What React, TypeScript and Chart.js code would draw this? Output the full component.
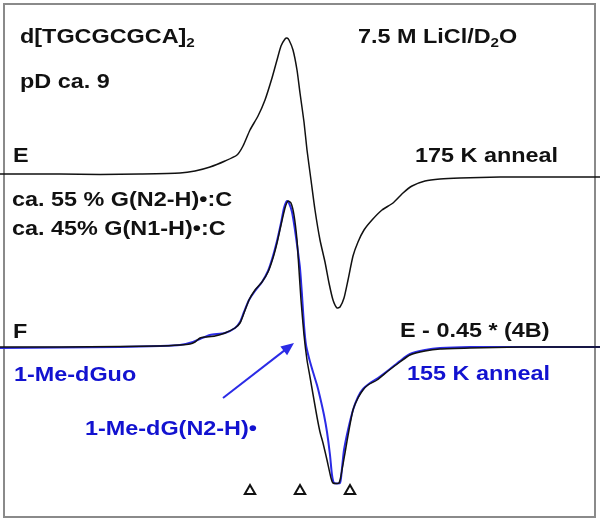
import React, { useEffect, useRef } from "react";
import { Chart, registerables } from "chart.js";

Chart.register(...registerables);

// Field offset (G, relative to center) and first-derivative EPR intensity (a.u.)
const FIELD_E = [-150, -120, -100, -80, -60, -52.5, -45, -37.5, -31.5, -28.5, -25, -21, -17.5, -14, -11.5, -9.5, -7.5, -6.5, -5.5, -3.5, -1.5, 0, 2, 3.5, 5.5, 7.5, 10, 12.5, 14.5, 16.5, 18.5, 20, 22, 24, 26.5, 29, 32, 36, 41, 46.5, 51.5, 56, 62.5, 70, 80, 100, 125, 150];
const SIGNAL_E = [1, 1, 0.5, 1, 2, 4, 8, 14, 20, 29, 45, 59, 75, 97, 115, 129, 136, 137, 135, 125, 105, 82, 53, 25, -5, -35, -65, -87, -108, -125, -133, -132, -123, -105, -81, -67, -55, -45, -35, -28, -18, -11, -6, -4, -3, -2, -2, -2];

const FIELD_F = [-150, -120, -90, -70, -60, -55, -52.5, -50, -47.5, -42.5, -37.5, -32.5, -30, -28, -25.5, -22.5, -19, -16, -13.5, -11.5, -9.5, -7.5, -6, -4.5, -3, -1.5, -0.5, 0.5, 2, 3.5, 5, 7, 8.5, 10, 11.5, 13.5, 15.5, 16.5, 19.5, 21, 22.5, 24.5, 26.5, 29, 31.5, 34, 38.5, 44, 50, 55, 62.5, 70, 85, 110, 150];
const SIGNAL_F = [0, 0, 0.5, 1, 2, 3, 5, 9, 10, 11, 14, 19, 24, 34, 47, 57, 65, 75, 89, 104, 122, 139, 146, 144, 132, 107, 77, 47, 12, -13, -30, -53, -70, -85, -96, -113, -131, -136, -136, -123, -106, -83, -63, -51, -43, -38, -33, -24, -15, -8, -4, -2, -1, 0, 0];

const FIELD_REF = [-150, -120, -90, -70, -60, -53.5, -50, -45, -37.5, -32.5, -30, -28, -25.5, -22.5, -19, -16, -13.5, -11.5, -9.5, -8, -6.5, -5.5, -4, -2.5, -1, 0, 1, 2, 3, 4.5, 6.5, 8.5, 10, 12, 13.5, 15, 16, 17, 20, 21, 22, 24, 26.5, 29, 31.5, 35, 39, 45, 50, 55, 62.5, 70, 85, 110, 150];
const SIGNAL_REF = [-1, -0.5, 0, 1, 2, 5, 8, 12, 14, 19, 25, 35, 47, 56, 65, 76, 91, 106, 124, 139, 146, 144, 135, 117, 95, 79, 52, 22, 2, -11, -25, -38, -50, -68, -85, -108, -128, -136, -136, -121, -103, -83, -63, -50, -42, -36, -31, -22, -14, -7, -3, -1, 0, 0, 0];

const MARKER_FIELDS = [-25, 0, 25];
const MARKER_LEVEL = 31;

const OFFSET_E = 347;
const OFFSET_F = 175;

const ARROW_FROM = { x: -38.5, y: 124 };
const ARROW_TO = { x: -3, y: 179 };

const BLACK = "#111111";
const BLUE_LINE = "#2b2be6";
const BLUE_TEXT = "#1212d0";

type Seg = { t: string; sub?: boolean };
type Label = { segs: Seg[]; x: number; y: number; color: string };

const LABELS: Label[] = [
  { segs: [{ t: "d[TGCGCGCA]" }, { t: "2", sub: true }], x: 20, y: 43, color: BLACK },
  { segs: [{ t: "pD ca. 9" }], x: 20, y: 88, color: BLACK },
  { segs: [{ t: "7.5 M LiCl/D" }, { t: "2", sub: true }, { t: "O" }], x: 358, y: 43, color: BLACK },
  { segs: [{ t: "E" }], x: 13, y: 162, color: BLACK },
  { segs: [{ t: "175 K anneal" }], x: 415, y: 162, color: BLACK },
  { segs: [{ t: "ca. 55 % G(N2-H)•:C" }], x: 12, y: 206, color: BLACK },
  { segs: [{ t: "ca. 45% G(N1-H)•:C" }], x: 12, y: 235, color: BLACK },
  { segs: [{ t: "F" }], x: 13, y: 338, color: BLACK },
  { segs: [{ t: "E - 0.45 * (4B)" }], x: 400, y: 337, color: BLACK },
  { segs: [{ t: "1-Me-dGuo" }], x: 14, y: 381, color: BLUE_TEXT },
  { segs: [{ t: "155 K anneal" }], x: 407, y: 380, color: BLUE_TEXT },
  { segs: [{ t: "1-Me-dG(N2-H)•" }], x: 85, y: 435, color: BLUE_TEXT },
];

const FONT = '"Liberation Sans", Arial, sans-serif';
const STRETCH = 1.17;

const decorPlugin = {
  id: "decor",
  beforeDatasetsDraw(chart: any) {
    const ctx = chart.ctx;
    ctx.save();
    ctx.strokeStyle = "#8a8a8a";
    ctx.lineWidth = 2;
    ctx.strokeRect(4, 4, 591, 513);
    ctx.restore();
  },
  afterDatasetsDraw(chart: any) {
    const ctx = chart.ctx;
    const xs = chart.scales.x;
    const ys = chart.scales.y;
    // arrow
    const x1 = xs.getPixelForValue(ARROW_FROM.x);
    const y1 = ys.getPixelForValue(ARROW_FROM.y);
    const x2 = xs.getPixelForValue(ARROW_TO.x);
    const y2 = ys.getPixelForValue(ARROW_TO.y);
    const ang = Math.atan2(y2 - y1, x2 - x1);
    const len = 13;
    const hw = 5.5;
    ctx.save();
    ctx.strokeStyle = BLUE_LINE;
    ctx.fillStyle = BLUE_LINE;
    ctx.lineWidth = 2;
    ctx.beginPath();
    ctx.moveTo(x1, y1);
    ctx.lineTo(x2 - Math.cos(ang) * len * 0.8, y2 - Math.sin(ang) * len * 0.8);
    ctx.stroke();
    ctx.beginPath();
    ctx.moveTo(x2, y2);
    ctx.lineTo(x2 - Math.cos(ang) * len - Math.sin(ang) * hw, y2 - Math.sin(ang) * len + Math.cos(ang) * hw);
    ctx.lineTo(x2 - Math.cos(ang) * len + Math.sin(ang) * hw, y2 - Math.sin(ang) * len - Math.cos(ang) * hw);
    ctx.closePath();
    ctx.fill();
    ctx.restore();

    // labels
    ctx.save();
    ctx.textBaseline = "alphabetic";
    ctx.textAlign = "left";
    for (const lab of LABELS) {
      ctx.save();
      ctx.translate(lab.x, lab.y);
      ctx.scale(STRETCH, 1);
      ctx.fillStyle = lab.color;
      let cx = 0;
      for (const s of lab.segs) {
        ctx.font = s.sub ? `bold 13px ${FONT}` : `bold 20px ${FONT}`;
        ctx.fillText(s.t, cx, s.sub ? 4 : 0);
        cx += ctx.measureText(s.t).width;
      }
      ctx.restore();
    }
    ctx.restore();
  },
};

export default function App() {
  const ref = useRef<HTMLCanvasElement | null>(null);

  useEffect(() => {
    document.body.style.margin = "0";
    const canvas = ref.current;
    if (!canvas) return;

    const toPts = (xs: number[], ys: number[], off: number) =>
      xs.map((x, i) => ({ x, y: ys[i] + off }));

    const chart = new Chart(canvas, {
      type: "scatter",
      data: {
        datasets: [
          {
            label: "E",
            data: toPts(FIELD_E, SIGNAL_E, OFFSET_E),
            showLine: true,
            borderColor: BLACK,
            borderWidth: 1.5,
            pointRadius: 0,
            tension: 0.2,
          },
          {
            label: "E - 0.45 * (4B)",
            data: toPts(FIELD_F, SIGNAL_F, OFFSET_F),
            showLine: true,
            borderColor: BLACK,
            borderWidth: 1.5,
            pointRadius: 0,
            tension: 0.2,
          },
          {
            label: "1-Me-dGuo",
            data: toPts(FIELD_REF, SIGNAL_REF, OFFSET_F),
            showLine: true,
            borderColor: BLUE_LINE,
            borderWidth: 2,
            pointRadius: 0,
            tension: 0.2,
          },
          {
            label: "markers",
            data: MARKER_FIELDS.map((x) => ({ x, y: MARKER_LEVEL })),
            showLine: false,
            pointStyle: "triangle",
            pointRadius: 6,
            backgroundColor: "#ffffff",
            borderColor: BLACK,
            borderWidth: 2,
          },
        ],
      },
      options: {
        responsive: false,
        animation: false,
        devicePixelRatio: 1,
        layout: { padding: 0, autoPadding: false },
        plugins: { legend: { display: false }, tooltip: { enabled: false } },
        scales: {
          x: { type: "linear", min: -150, max: 150, display: false },
          y: { type: "linear", min: 0, max: 522, display: false },
        },
      },
      plugins: [decorPlugin],
    } as any);

    return () => chart.destroy();
  }, []);

  return (
    <div style={{ width: 600, height: 522, background: "#ffffff" }}>
      <canvas ref={ref} width={600} height={522} />
    </div>
  );
}
